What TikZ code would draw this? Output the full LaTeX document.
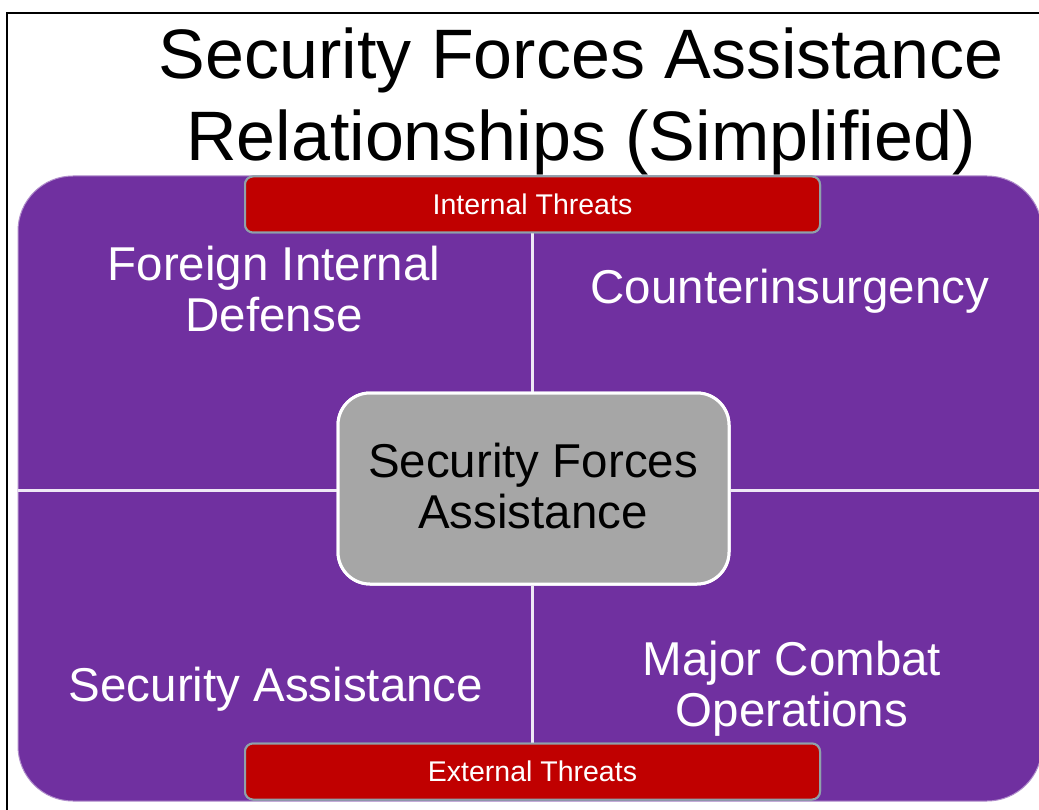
\documentclass[tikz,border=0pt]{standalone}
\usepackage{fontspec}
\setmainfont{Liberation Sans}
\definecolor{sfapurple}{HTML}{7030A0}
\definecolor{sfared}{HTML}{C00000}
\definecolor{sfagray}{HTML}{A6A6A6}
\definecolor{sfaredline}{HTML}{8FA0AA}
\definecolor{sfadivider}{HTML}{EEE8F5}
\tikzset{
  panel/.style={fill=sfapurple, draw=sfapurple!55!white, line width=1pt, rounded corners=55pt},
  threatbox/.style={fill=sfared, draw=sfaredline, line width=2pt, rounded corners=8pt,
    minimum width=575pt, minimum height=56pt, inner sep=0pt, text=white,
    font=\fontsize{28.5}{30}\selectfont},
  centerbox/.style={fill=sfagray, draw=white, line width=3pt, rounded corners=32pt,
    minimum width=391pt, minimum height=191pt, inner sep=0pt},
  divider/.style={draw=sfadivider, line width=3pt},
  quadtext/.style={text=white, anchor=base, inner sep=0pt, font=\fontsize{47.5}{51}\selectfont},
  centertext/.style={text=black, anchor=base, inner sep=0pt, font=\fontsize{47.5}{51}\selectfont},
  titletext/.style={text=black, anchor=base, inner sep=0pt, font=\fontsize{70}{82}\selectfont},
  frameline/.style={draw=black, line width=2.5pt}
}
\begin{document}
\begin{tikzpicture}[x=1pt,y=-1pt]
\useasboundingbox (0,0) rectangle (1039,810);
\begin{scope}
\clip (0,0) rectangle (1039,810);
\fill[white] (0,0) rectangle (1039,810);
\draw[frameline] (7,815) -- (7,13) -- (1045,13);
% purple panel
\path[panel] (18,176) rectangle (1042,801);
\coordinate (pleft) at (18,490);
\coordinate (pright) at (1042,490);
% boxes
\node[threatbox] (intthreat) at (532.5,204.5) {Internal Threats};
\node[threatbox] (extthreat) at (532.5,771.5) {External Threats};
\node[centerbox] (sfa) at (533.5,488.5) {};
% dividers
\draw[divider] (intthreat.south) -- (intthreat.south |- sfa.north);
\draw[divider] (extthreat.north |- sfa.south) -- (extthreat.north);
\draw[divider] (pleft) -- (sfa.west |- pleft);
\draw[divider] (sfa.east |- pright) -- (pright);
% redraw boxes on top of dividers
\node[threatbox] at (intthreat) {Internal Threats};
\node[threatbox] at (extthreat) {External Threats};
\node[centerbox] at (sfa) {};
\end{scope}
% texts
\node[titletext] (title) at (581,79) {\begin{tabular}[t]{@{}c@{}}Security Forces Assistance\\Relationships (Simplified)\end{tabular}};
\node[centertext] (sfatext) at (533,477) {\begin{tabular}[t]{@{}c@{}}Security Forces\\Assistance\end{tabular}};
\node[quadtext] (fid) at (274,281) {\begin{tabular}[t]{@{}c@{}}Foreign Internal\\Defense\end{tabular}};
\node[quadtext] (coin) at (790,304) {Counterinsurgency};
\node[quadtext] (sa) at (276,701) {Security Assistance};
\node[quadtext] (mco) at (792,675) {\begin{tabular}[t]{@{}c@{}}Major Combat\\Operations\end{tabular}};
\end{tikzpicture}
\end{document}
